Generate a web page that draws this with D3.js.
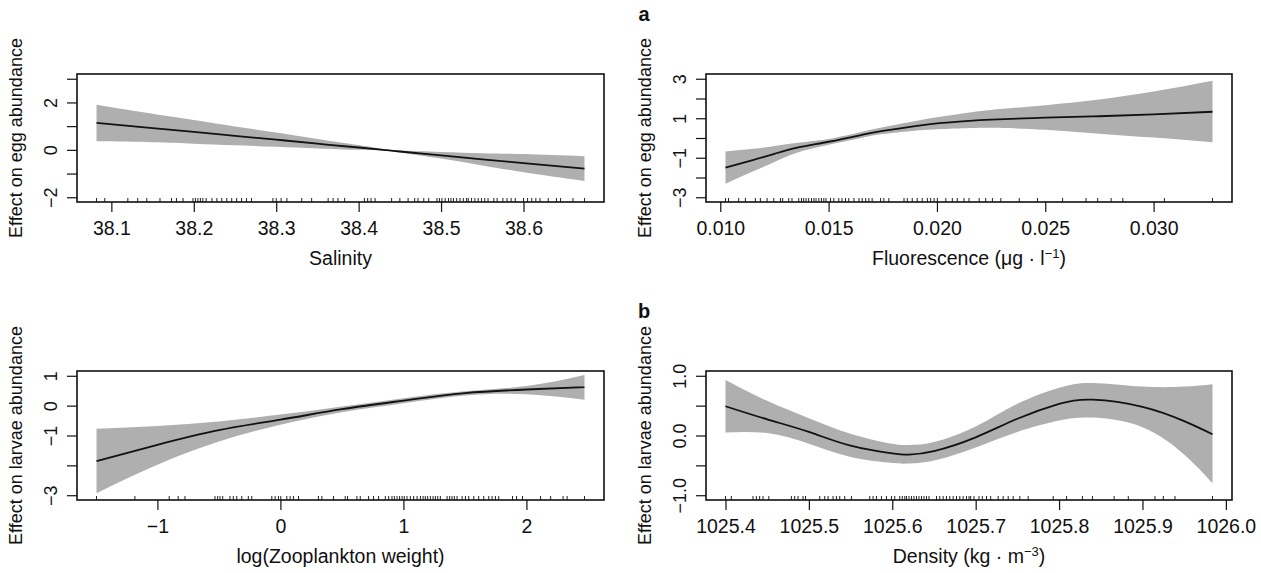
<!DOCTYPE html>
<html>
<head>
<meta charset="utf-8">
<script src="https://cdn.jsdelivr.net/npm/d3@7"></script>
<style>
  body { margin: 0; background: #fff; }
  text { font-family: "Liberation Sans", Arial, sans-serif; fill: #111; }
</style>
</head>
<body>
<svg width="1261" height="573"></svg>
<script>
// ---- Salinity (egg abundance) ----
const salX   = [38.082, 38.15, 38.2, 38.25, 38.3, 38.35, 38.4, 38.43, 38.45, 38.5, 38.55, 38.6, 38.674];
const salFit = [1.14, 0.92, 0.76, 0.59, 0.43, 0.26, 0.10, 0.0, -0.07, -0.23, -0.40, -0.56, -0.79];
const salHi  = [1.90, 1.52, 1.26, 0.99, 0.73, 0.46, 0.20, 0.03, -0.03, -0.09, -0.14, -0.18, -0.27];
const salLo  = [0.36, 0.32, 0.26, 0.19, 0.13, 0.06, 0.0, -0.03, -0.11, -0.37, -0.66, -0.94, -1.31];
const salRug = [38.082, 38.092, 38.120, 38.132, 38.143, 38.159, 38.173, 38.179, 38.187, 38.199, 38.202,
  38.205, 38.208, 38.211, 38.215, 38.222, 38.228, 38.234, 38.240, 38.246, 38.252, 38.258, 38.264, 38.270,
  38.296, 38.300, 38.306, 38.313, 38.331, 38.343, 38.363, 38.369, 38.375, 38.383, 38.407, 38.411, 38.415,
  38.420, 38.440, 38.450, 38.460, 38.468, 38.472, 38.479, 38.485, 38.495, 38.498, 38.501, 38.505, 38.509,
  38.512, 38.515, 38.519, 38.523, 38.527, 38.531, 38.533, 38.537, 38.541, 38.545, 38.549, 38.553, 38.557,
  38.564, 38.568, 38.575, 38.580, 38.585, 38.590, 38.600, 38.605, 38.610, 38.615, 38.620, 38.630, 38.640,
  38.645, 38.660, 38.674];
const salXTicks = [38.1, 38.2, 38.3, 38.4, 38.5, 38.6];
const salYTicks = [-2, -1, 0, 1, 2, 3];
const salYLabels = ["\u22122", "", "0", "", "2", ""];

// ---- Fluorescence (egg abundance) ----
const fluX   = [0.01024, 0.0115, 0.0125, 0.0135, 0.015, 0.0165, 0.0175, 0.019, 0.020, 0.0215, 0.0225, 0.025, 0.0275, 0.030, 0.03272];
const fluFit = [-1.50, -1.12, -0.80, -0.50, -0.19, 0.15, 0.36, 0.60, 0.74, 0.87, 0.93, 1.03, 1.10, 1.20, 1.33];
const fluHi  = [-0.68, -0.55, -0.40, -0.25, -0.05, 0.30, 0.54, 0.86, 1.05, 1.29, 1.42, 1.66, 1.95, 2.35, 2.90];
const fluLo  = [-2.32, -1.70, -1.22, -0.76, -0.34, 0.0, 0.20, 0.37, 0.44, 0.50, 0.52, 0.42, 0.22, 0.02, -0.22];
const fluRug = [0.01024, 0.01038, 0.01085, 0.01116, 0.01162, 0.01185, 0.01216, 0.01247, 0.01278, 0.01288,
  0.01316, 0.01331, 0.01362, 0.01375, 0.01385, 0.01396, 0.01408, 0.01421, 0.01432, 0.01442, 0.01455,
  0.01467, 0.01478, 0.01488, 0.01509, 0.01524, 0.01547, 0.01562, 0.01578, 0.01593, 0.01617, 0.01640,
  0.01655, 0.01671, 0.01686, 0.01701, 0.01740, 0.01755, 0.01778, 0.01848, 0.01863, 0.01886, 0.01909,
  0.01932, 0.01956, 0.01971, 0.01987, 0.02002, 0.02041, 0.02071, 0.02094, 0.02125, 0.02148, 0.02195,
  0.02225, 0.02256, 0.02295, 0.02380, 0.02464, 0.02580, 0.02688, 0.02742, 0.02804, 0.02858, 0.0305, 0.03272];
const fluXTicks = [0.010, 0.015, 0.020, 0.025, 0.030];
const fluYTicks = [-3, -2, -1, 0, 1, 2, 3];
const fluYLabels = ["\u22123", "", "\u22121", "", "1", "", "3"];

// ---- Zooplankton (larvae abundance) ----
const zooX   = [-1.495, -1.0, -0.5, 0, 0.5, 1.0, 1.5, 2.0, 2.472];
const zooFit = [-1.86, -1.31, -0.82, -0.47, -0.12, 0.17, 0.42, 0.54, 0.62];
const zooHi  = [-0.77, -0.68, -0.53, -0.30, -0.03, 0.25, 0.48, 0.66, 1.03];
const zooLo  = [-2.93, -1.98, -1.20, -0.64, -0.22, 0.08, 0.34, 0.38, 0.20];
const zooRug = [-1.495, -1.183, -0.904, -0.831, -0.776, -0.532, -0.510, -0.491, -0.469, -0.410, -0.383,
  -0.355, -0.314, -0.261, -0.233, -0.070, -0.043, -0.016, 0.003, 0.052, 0.079, 0.106, 0.147, 0.309, 0.337,
  0.432, 0.527, 0.546, 0.622, 0.649, 0.717, 0.757, 0.798, 0.853, 0.880, 0.907, 0.926, 0.948, 0.969, 0.989,
  1.007, 1.029, 1.056, 1.083, 1.111, 1.138, 1.160, 1.178, 1.197, 1.219, 1.241, 1.260, 1.279, 1.300, 1.355,
  1.376, 1.395, 1.414, 1.436, 1.477, 1.504, 1.531, 1.572, 1.612, 1.653, 1.694, 1.721, 1.748, 1.775, 1.887,
  1.920, 1.968, 2.115, 2.197, 2.298, 2.331, 2.472];
const zooXTicks = [-1, 0, 1, 2];
const zooYTicks = [-3, -2, -1, 0, 1];
const zooYLabels = ["\u22123", "", "\u22121", "0", "1"];

// ---- Density (larvae abundance) ----
const denX   = [1025.40, 1025.45, 1025.50, 1025.55, 1025.60, 1025.62, 1025.65, 1025.70, 1025.75, 1025.80, 1025.84, 1025.90, 1025.95, 1025.984];
const denFit = [0.49, 0.27, 0.06, -0.17, -0.30, -0.32, -0.26, -0.03, 0.28, 0.53, 0.60, 0.48, 0.24, 0.02];
const denHi  = [0.93, 0.58, 0.29, 0.03, -0.14, -0.16, -0.11, 0.15, 0.53, 0.80, 0.88, 0.82, 0.82, 0.86];
const denLo  = [0.05, 0.04, -0.14, -0.36, -0.46, -0.47, -0.42, -0.20, 0.06, 0.25, 0.30, 0.14, -0.32, -0.80];
const denRug = [1025.400, 1025.407, 1025.433, 1025.437, 1025.441, 1025.445, 1025.452, 1025.479, 1025.483,
  1025.487, 1025.493, 1025.496, 1025.513, 1025.519, 1025.523, 1025.529, 1025.533, 1025.537, 1025.543,
  1025.551, 1025.573, 1025.577, 1025.581, 1025.587, 1025.593, 1025.599, 1025.603, 1025.609, 1025.612,
  1025.615, 1025.617, 1025.620, 1025.623, 1025.626, 1025.629, 1025.632, 1025.635, 1025.638, 1025.641,
  1025.644, 1025.653, 1025.657, 1025.661, 1025.665, 1025.669, 1025.673, 1025.677, 1025.681, 1025.685,
  1025.689, 1025.692, 1025.694, 1025.698, 1025.704, 1025.708, 1025.713, 1025.718, 1025.727, 1025.733,
  1025.739, 1025.745, 1025.753, 1025.763, 1025.793, 1025.809, 1025.828, 1025.840, 1025.866, 1025.883,
  1025.915, 1025.925, 1025.939, 1025.984];
const denXTicks = [1025.4, 1025.5, 1025.6, 1025.7, 1025.8, 1025.9, 1026.0];
const denYTicks = [-1, -0.5, 0, 0.5, 1];
const denYLabels = ["\u22121.0", "", "0.0", "", "1.0"];

const FONT_H = 19.5;   // horizontal text
const FONT_V = 18;     // rotated text
const BAND = "#afafaf";
const svg = d3.select("svg");

// R style axis range: data range plus 4% on each side
const pad = ([a, b]) => [a - (b - a) * 0.04, b + (b - a) * 0.04];

const panels = [
  { x: salX, fit: salFit, lo: salLo, hi: salHi, rug: salRug, xTicks: salXTicks, xFmt: d3.format(".1f"),
    yTicks: salYTicks, yLabels: salYLabels, ylim: [-2, 3], left: 77, right: 604, top: 74, bottom: 202,
    xTitle: ["Salinity"], yTitle: "Effect on egg abundance" },
  { x: fluX, fit: fluFit, lo: fluLo, hi: fluHi, rug: fluRug, xTicks: fluXTicks, xFmt: d3.format(".3f"),
    yTicks: fluYTicks, yLabels: fluYLabels, ylim: [-3, 3], left: 706, right: 1232, top: 74, bottom: 202,
    xTitle: ["Fluorescence (\u03bcg \u00b7 l", "\u22121", ")"], yTitle: "Effect on egg abundance", tag: "a" },
  { x: zooX, fit: zooFit, lo: zooLo, hi: zooHi, rug: zooRug, xTicks: zooXTicks, xFmt: d3.format("d"),
    yTicks: zooYTicks, yLabels: zooYLabels, ylim: [-3, 1], left: 77, right: 604, top: 371, bottom: 500,
    xTitle: ["log(Zooplankton weight)"], yTitle: "Effect on larvae abundance" },
  { x: denX, fit: denFit, lo: denLo, hi: denHi, rug: denRug, xTicks: denXTicks, xFmt: d3.format(".1f"),
    yTicks: denYTicks, yLabels: denYLabels, ylim: [-1, 1], left: 706, right: 1232, top: 371, bottom: 500,
    xTitle: ["Density (kg \u00b7 m", "\u22123", ")"], yTitle: "Effect on larvae abundance", tag: "b" }
];

function drawPanel(p) {
  const x = d3.scaleLinear().domain(pad(d3.extent(p.x))).range([p.left, p.right]);
  const y = d3.scaleLinear().domain(pad(p.ylim)).range([p.bottom, p.top]);
  const pts = p.x.map((d, i) => ({ x: d, fit: p.fit[i], lo: p.lo[i], hi: p.hi[i] }));
  const g = svg.append("g");

  g.append("path")
    .datum(pts)
    .attr("fill", BAND)
    .attr("d", d3.area().x(d => x(d.x)).y0(d => y(d.lo)).y1(d => y(d.hi)).curve(d3.curveNatural));

  g.append("path")
    .datum(pts)
    .attr("fill", "none")
    .attr("stroke", "#111")
    .attr("stroke-width", 1.8)
    .attr("d", d3.line().x(d => x(d.x)).y(d => y(d.fit)).curve(d3.curveNatural));

  // rug
  g.selectAll("line.rug")
    .data(p.rug)
    .join("line")
    .attr("class", "rug")
    .attr("x1", d => x(d)).attr("x2", d => x(d))
    .attr("y1", p.bottom).attr("y2", p.bottom - 4)
    .attr("stroke", "#222")
    .attr("stroke-width", 1);

  g.append("rect")
    .attr("x", p.left).attr("y", p.top)
    .attr("width", p.right - p.left).attr("height", p.bottom - p.top)
    .attr("fill", "none").attr("stroke", "#111").attr("stroke-width", 1.6);

  const xa = g.append("g")
    .attr("transform", `translate(0,${p.bottom})`)
    .call(d3.axisBottom(x).tickValues(p.xTicks).tickFormat(p.xFmt).tickSize(10).tickPadding(9));
  xa.select(".domain").remove();
  xa.selectAll("text").attr("font-size", FONT_H).attr("fill", "#111");
  xa.selectAll("line").attr("stroke", "#111").attr("stroke-width", 1.2);

  const ya = g.append("g")
    .attr("transform", `translate(${p.left},0)`)
    .call(d3.axisLeft(y).tickValues(p.yTicks).tickFormat((d, i) => p.yLabels[i]).tickSize(10));
  ya.select(".domain").remove();
  ya.selectAll("line").attr("stroke", "#111").attr("stroke-width", 1.2);
  ya.selectAll("text")
    .attr("font-size", FONT_V).attr("fill", "#111")
    .attr("text-anchor", "middle")
    .attr("x", 0).attr("y", -20).attr("dy", null)
    .attr("transform", "rotate(-90)");

  const xt = g.append("text")
    .attr("x", (p.left + p.right) / 2)
    .attr("y", p.bottom + 63)
    .attr("text-anchor", "middle")
    .attr("font-size", FONT_H);
  xt.append("tspan").text(p.xTitle[0]);
  if (p.xTitle.length > 1) {
    xt.append("tspan").attr("font-size", 13).attr("dy", -7).text(p.xTitle[1]);
    xt.append("tspan").attr("dy", 7).text(p.xTitle[2]);
  }

  g.append("text")
    .attr("transform", `translate(${p.left - 55},${(p.top + p.bottom) / 2}) rotate(-90)`)
    .attr("text-anchor", "middle")
    .attr("font-size", FONT_V)
    .text(p.yTitle);

  if (p.tag) {
    g.append("text")
      .attr("x", p.left - 62)
      .attr("y", p.top - 53)
      .attr("text-anchor", "middle")
      .attr("font-size", 20)
      .attr("font-weight", "bold")
      .text(p.tag);
  }
}

panels.forEach(drawPanel);
</script>
</body>
</html>
